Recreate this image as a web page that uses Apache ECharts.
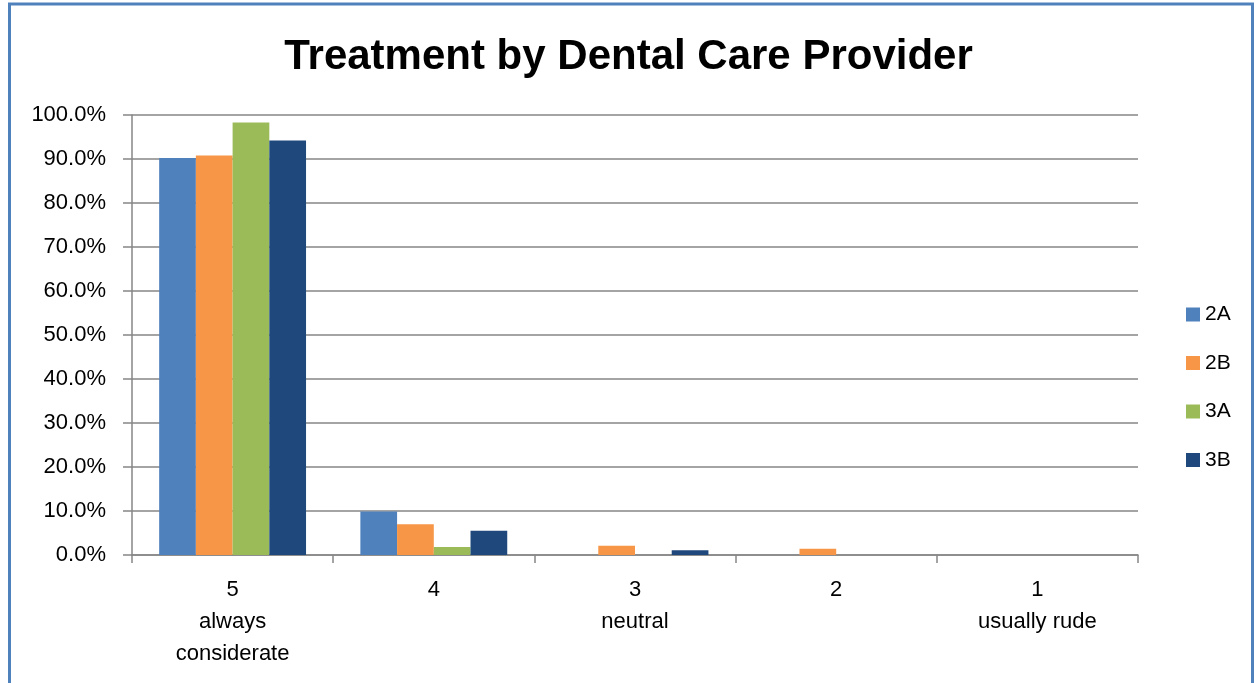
<!DOCTYPE html>
<html><head><meta charset="utf-8">
<script src="https://cdn.jsdelivr.net/npm/echarts@6/dist/echarts.min.js"></script>
<style>html,body{margin:0;padding:0;background:#fff}#c{width:1257px;height:683px}</style>
</head><body><div id="c"></div>
<script>
const categories = ['5\nalways\nconsiderate', '4', '3\nneutral', '2', '1\nusually rude'];
const seriesNames = ['2A', '2B', '3A', '3B'];
const s2A = [0.902, 0.099, 0, 0, 0];
const s2B = [0.908, 0.070, 0.021, 0.014, 0];
const s3A = [0.983, 0.018, 0, 0, 0];
const s3B = [0.942, 0.055, 0.011, 0, 0];
const colors = ['#4F81BD', '#F79646', '#9BBB59', '#1F497D'];
const values = [s2A, s2B, s3A, s3B];
const font = 'Liberation Sans, Arial, sans-serif';
const chart = echarts.init(document.getElementById('c'));
chart.setOption({
  animation: false,
  title: { text: 'Treatment by Dental Care Provider', left: 'center', top: 31,
    textStyle: { fontSize: 42, fontWeight: 'bold', color: '#000', fontFamily: font } },
  graphic: [{ type: 'rect', shape: { x: 9.5, y: 4, width: 1243, height: 720 },
    style: { fill: 'none', stroke: '#4F81BD', lineWidth: 3 }, z: 100 }],
  legend: { orient: 'vertical', left: 1181, top: 299, itemWidth: 14, itemHeight: 14, itemGap: 27.5,
    icon: 'rect', textStyle: { fontSize: 21, color: '#000', fontFamily: font } },
  grid: { left: 132, top: 115, right: 119, bottom: 128 },
  xAxis: { type: 'category', data: categories,
    axisLine: { lineStyle: { color: '#868686', width: 1.5 } },
    axisTick: { show: true, length: 8, lineStyle: { color: '#868686', width: 1.5 } },
    axisLabel: { fontSize: 22, color: '#000', fontFamily: font, lineHeight: 32, margin: 19 } },
  yAxis: { type: 'value', min: 0, max: 1, interval: 0.1,
    axisLine: { show: true, lineStyle: { color: '#868686', width: 1.5 } },
    axisTick: { show: true, length: 9, lineStyle: { color: '#868686', width: 1.5 } },
    splitLine: { lineStyle: { color: '#868686', width: 1.5 } },
    axisLabel: { fontSize: 22, color: '#000', fontFamily: font, margin: 26,
      formatter: v => (v * 100).toFixed(1) + '%' } },
  series: seriesNames.map((n, i) => ({ name: n, type: 'bar', data: values[i],
    itemStyle: { color: colors[i] }, barGap: '0%', barCategoryGap: '27%' }))
});
</script></body></html>
